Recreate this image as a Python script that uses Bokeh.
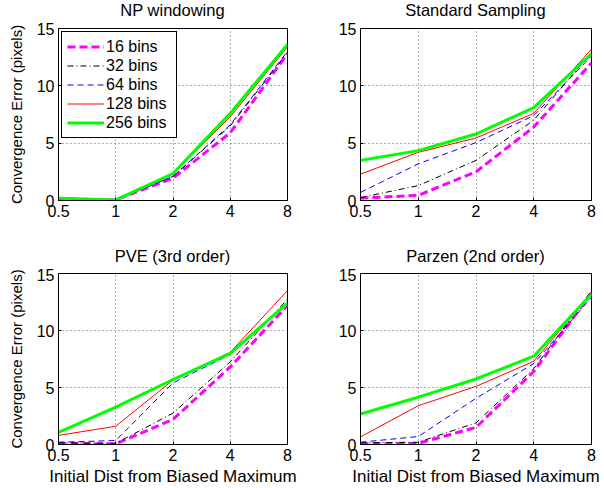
from bokeh.plotting import figure
from bokeh.layouts import column, row
from bokeh.models import Range1d, FixedTicker, BasicTickFormatter, Legend, LegendItem, Div, Spacer
from bokeh.embed import file_html
from bokeh.resources import INLINE

dist = [0.5, 1, 2, 4, 8]
x_ticks = [0.5, 1, 2, 4, 8]
y_ticks = [0, 5, 10, 15]
series_names = ["16 bins", "32 bins", "64 bins", "128 bins", "256 bins"]

titles = ["NP windowing", "Standard Sampling", "PVE (3rd order)", "Parzen (2nd order)"]

np_windowing = {
    "16 bins": [0.15, 0.05, 1.95, 5.9, 12.8],
    "32 bins": [0.15, 0.05, 2.1, 6.5, 12.9],
    "64 bins": [0.15, 0.05, 2.1, 6.6, 13.0],
    "128 bins": [0.2, 0.05, 2.3, 7.3, 13.4],
    "256 bins": [0.2, 0.05, 2.35, 7.6, 13.6],
}
standard_sampling = {
    "16 bins": [0.2, 0.45, 2.5, 6.4, 12.0],
    "32 bins": [0.25, 1.3, 3.5, 7.0, 12.9],
    "64 bins": [0.7, 3.2, 5.05, 7.4, 12.6],
    "128 bins": [2.3, 4.2, 5.45, 7.6, 13.2],
    "256 bins": [3.5, 4.35, 5.8, 8.1, 12.8],
}
pve_3rd = {
    "16 bins": [0.1, 0.05, 2.2, 6.8, 12.2],
    "32 bins": [0.15, 0.1, 2.75, 7.25, 12.75],
    "64 bins": [0.2, 0.35, 5.4, 7.9, 12.5],
    "128 bins": [0.8, 1.6, 5.65, 8.1, 13.5],
    "256 bins": [1.07, 3.28, 5.7, 8.0, 12.4],
}
parzen_2nd = {
    "16 bins": [0.05, 0.1, 1.5, 6.4, 13.3],
    "32 bins": [0.15, 0.2, 1.9, 6.65, 13.5],
    "64 bins": [0.2, 0.7, 4.05, 7.1, 12.9],
    "128 bins": [0.67, 3.4, 5.1, 7.3, 13.25],
    "256 bins": [2.67, 4.15, 5.75, 7.75, 13.2],
}
panels = [np_windowing, standard_sampling, pve_3rd, parzen_2nd]

styles = {
    "16 bins": dict(line_color="#ff00ff", line_width=3, line_dash="8 4"),
    "32 bins": dict(line_color="#000000", line_width=1, line_dash="6 3 1 3"),
    "64 bins": dict(line_color="#0000ff", line_width=1, line_dash="6 4"),
    "128 bins": dict(line_color="#ff0000", line_width=1),
    "256 bins": dict(line_color="#00ff00", line_width=3),
}

FONT = "Liberation Sans"

# (width, height, border_left, border_right, border_top, border_bottom)
geom = [
    (302, 224, 58, 15, 8, 44),
    (302, 224, 58, 13, 8, 44),
    (302, 220, 58, 15, 5, 42),
    (302, 220, 58, 13, 5, 42),
]
title_heights = [20, 20, 24, 24]

figs = []
for i, data in enumerate(panels):
    w, h, bl, br, bt, bb = geom[i]
    p = figure(width=w, height=h, x_axis_type="log",
               x_range=Range1d(0.5, 8), y_range=Range1d(0, 15),
               output_backend="svg", toolbar_location=None,
               min_border_left=bl, min_border_right=br,
               min_border_top=bt, min_border_bottom=bb)
    p.outline_line_color = "black"
    p.outline_line_width = 1
    p.outline_line_alpha = 1

    p.xaxis.ticker = FixedTicker(ticks=x_ticks)
    p.xaxis.formatter = BasicTickFormatter()
    p.yaxis.ticker = FixedTicker(ticks=y_ticks)
    for ax in (p.xaxis, p.yaxis):
        ax.major_label_text_font = FONT
        ax.major_label_text_font_size = "16px"
        ax.major_label_text_color = "black"
        ax.axis_line_color = "black"
        ax.major_tick_line_color = "black"
        ax.major_tick_in = 3
        ax.major_tick_out = 0
        ax.minor_tick_line_color = None
        ax.major_label_standoff = 4
        ax.axis_label_text_font = FONT
        ax.axis_label_text_font_style = "normal"
        ax.axis_label_text_color = "black"
    p.xaxis.axis_label_text_font_size = "17px"
    p.yaxis.axis_label_text_font_size = "15px"
    if i in (0, 2):
        p.yaxis.axis_label = "Convergence Error (pixels)"
        p.yaxis.axis_label_standoff = 9
    if i in (2, 3):
        p.xaxis.axis_label = "Initial Dist from Biased Maximum"
        p.xaxis.axis_label_standoff = 3

    for g in (p.xgrid, p.ygrid):
        g.grid_line_color = "#333333"
        g.grid_line_dash = "1 3"
        g.grid_line_width = 1
        g.grid_line_alpha = 0.8
    p.xgrid.ticker = FixedTicker(ticks=x_ticks)
    p.ygrid.ticker = FixedTicker(ticks=y_ticks)

    items = []
    for name in series_names:
        r = p.line(dist, data[name], **styles[name])
        items.append(LegendItem(label=name, renderers=[r]))

    if i == 0:
        leg = Legend(items=items, location="top_left")
        leg.margin = 3
        leg.padding = 5
        leg.spacing = 0
        leg.glyph_width = 37
        leg.glyph_height = 19
        leg.label_height = 19
        leg.label_width = 65
        leg.label_standoff = 2
        leg.label_text_font = FONT
        leg.label_text_font_size = "16px"
        leg.label_text_color = "black"
        leg.border_line_color = "black"
        leg.border_line_width = 1
        leg.border_line_alpha = 1
        leg.background_fill_color = "white"
        leg.background_fill_alpha = 1
        p.add_layout(leg, "center")
    figs.append(p)


def title_div(i):
    w, h, bl, br, bt, bb = geom[i]
    th = title_heights[i]
    d = Div(text=titles[i], width=w - bl - br, height=th, margin=(0, 0, 0, 0),
            styles={"font-family": FONT, "font-size": "16.5px",
                    "text-align": "center", "line-height": f"{th}px",
                    "color": "black", "white-space": "nowrap"})
    return [Spacer(width=bl, height=th, margin=(0, 0, 0, 0)), d,
            Spacer(width=br, height=th, margin=(0, 0, 0, 0))]


layout = column(
    row(*title_div(0), *title_div(1)),
    row(figs[0], figs[1]),
    row(*title_div(2), *title_div(3)),
    row(figs[2], figs[3]),
)
open("out.html", "w").write(file_html(layout, INLINE))
